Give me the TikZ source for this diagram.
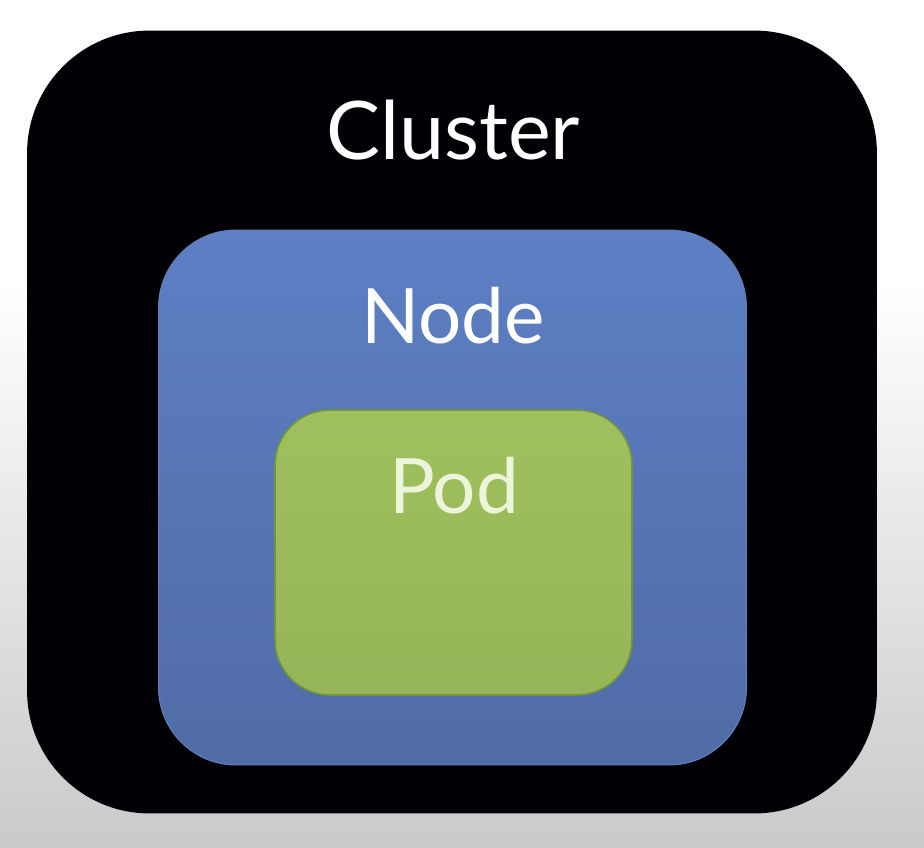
\documentclass[tikz,border=0pt]{standalone}
\usepackage{fontspec}
\setmainfont{Lato}
\usepackage{tikz}
\usetikzlibrary{positioning}

\definecolor{nodeblue}{RGB}{93,127,196}
\definecolor{nodeblueb}{RGB}{80,108,166}
\definecolor{podgreen}{RGB}{160,192,94}
\definecolor{podgreenb}{RGB}{150,181,88}
\definecolor{podedge}{RGB}{112,150,62}
\definecolor{podtext}{RGB}{236,244,218}

\begin{document}
\begin{tikzpicture}[x=0.02cm,y=-0.02cm,
                    box/.style={rectangle,inner sep=0pt},
                    lbl/.style={font=\fontsize{43.5}{50}\selectfont,text=white}]

  % background
  \fill[white] (0,0) rectangle (924,282);
  \shade[top color=white,bottom color=black!21] (0,282) rectangle (924,848);
  \useasboundingbox (0,0) rectangle (924,848);

  \node[box,fill=black!98!blue,rounded corners=2.45cm,
        minimum width=17.0cm,minimum height=15.66cm] (cluster) at (452,422) {};
  \node[box,top color=nodeblue,bottom color=nodeblueb,draw=nodeblue!80!gray,line width=0.6pt,
        rounded corners=1.55cm,minimum width=11.76cm,minimum height=10.7cm] (node) at (452.5,497.5) {};
  \node[box,top color=podgreen,bottom color=podgreenb,draw=podedge,line width=0.9pt,
        rounded corners=1.1cm,minimum width=7.14cm,minimum height=5.7cm] (pod) at (453.5,552.5) {};

  \node[lbl,font=\fontsize{46}{52}\selectfont] (clusterlbl) at (453,130) {Cluster};
  \node[lbl] (nodelbl) at (453,316) {Node};
  \node[lbl,text=podtext] (podlbl) at (454,486) {Pod};

\end{tikzpicture}
\end{document}
